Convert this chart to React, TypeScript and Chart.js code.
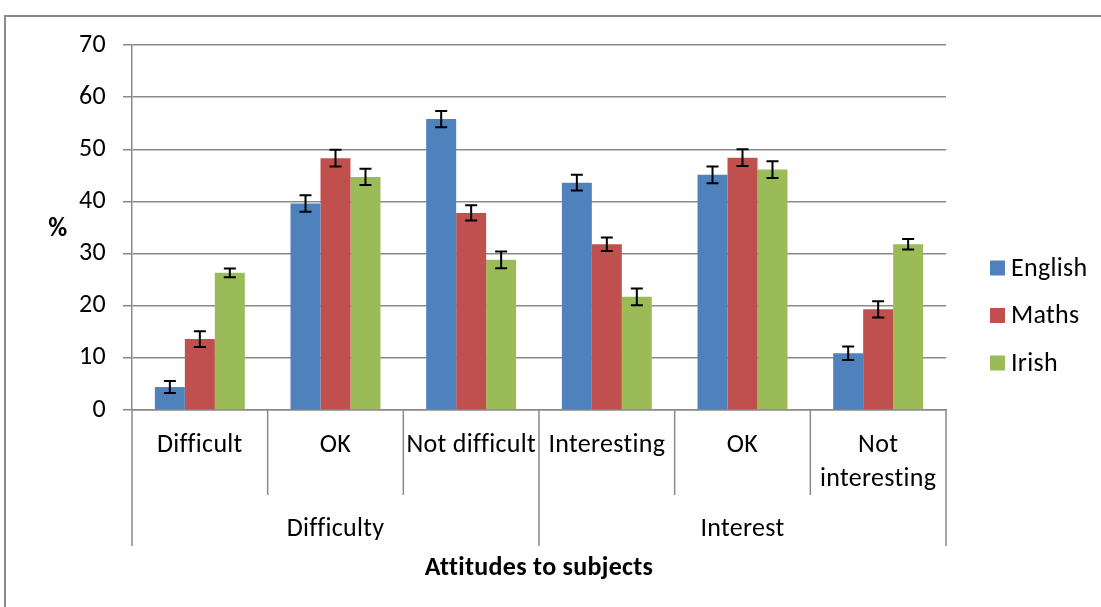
import { useEffect, useRef } from "react";
import { Chart, registerables } from "chart.js";

Chart.register(...registerables);

// ---- data ----
const categories: (string | string[])[] = [
  "Difficult",
  "OK",
  "Not difficult",
  "Interesting",
  "OK",
  ["Not", "interesting"],
];
const groups = ["Difficulty", "Interest"];
const groupSpans = [3, 3];

const seriesNames = ["English", "Maths", "Irish"];
const english = [4.4, 39.6, 55.8, 43.6, 45.1, 10.9];
const maths = [13.6, 48.3, 37.8, 31.8, 48.4, 19.3];
const irish = [26.3, 44.7, 28.8, 21.7, 46.1, 31.8];
const englishErr = [1.15, 1.6, 1.55, 1.5, 1.6, 1.3];
const mathsErr = [1.5, 1.6, 1.45, 1.3, 1.6, 1.55];
const irishErr = [0.85, 1.55, 1.6, 1.6, 1.6, 1.0];

const yTicks = [0, 10, 20, 30, 40, 50, 60, 70];
const xTitle = "Attitudes to subjects";
const yTitle = "%";

// ---- style ----
const COLORS = ["#4F81BD", "#C0504D", "#9BBB59"];
const GRID = "#8a8a8a";
const FONT = "Carlito, Lato, sans-serif";
const FS = 26;
const SPACING = "0.3px";

export default function App() {
  const ref = useRef<HTMLCanvasElement>(null);

  useEffect(() => {
    if (!ref.current) return;
    const errs = [englishErr, mathsErr, irishErr];

    const setSpacing = (chart: any) => {
      try {
        (chart.ctx as any).letterSpacing = SPACING;
      } catch (e) {
        /* ignore */
      }
    };

    const extras = {
      id: "extras",
      beforeUpdate(chart: any) {
        setSpacing(chart);
      },
      beforeLayout(chart: any) {
        setSpacing(chart);
      },
      beforeDraw(chart: any) {
        setSpacing(chart);
        const ctx = chart.ctx;
        ctx.save();
        ctx.strokeStyle = GRID;
        ctx.lineWidth = 2;
        ctx.beginPath();
        ctx.moveTo(5, chart.height + 5);
        ctx.lineTo(5, 16);
        ctx.lineTo(chart.width + 5, 16);
        ctx.stroke();
        ctx.restore();
      },
      afterDatasetsDraw(chart: any) {
        const ctx = chart.ctx;
        const y = chart.scales.y;
        ctx.save();
        ctx.strokeStyle = "#000";
        ctx.lineWidth = 2;
        chart.data.datasets.forEach((ds: any, di: number) => {
          const meta = chart.getDatasetMeta(di);
          meta.data.forEach((el: any, i: number) => {
            const v = ds.data[i];
            const e = errs[di][i];
            const top = y.getPixelForValue(v + e);
            const bot = y.getPixelForValue(v - e);
            const cx = el.x;
            ctx.beginPath();
            ctx.moveTo(cx, top);
            ctx.lineTo(cx, bot);
            ctx.moveTo(cx - 6, top);
            ctx.lineTo(cx + 6, top);
            ctx.moveTo(cx - 6, bot);
            ctx.lineTo(cx + 6, bot);
            ctx.stroke();
          });
        });
        ctx.restore();
      },
      afterDraw(chart: any) {
        const ctx = chart.ctx;
        const x = chart.scales.x;
        const ca = chart.chartArea;
        const n = categories.length;
        const w = (ca.right - ca.left) / n;
        const edge = (i: number) =>
          i < n ? x.getPixelForValue(i) - w / 2 : x.getPixelForValue(n - 1) + w / 2;

        const bounds = new Set<number>([0]);
        let acc = 0;
        groupSpans.forEach((s) => {
          acc += s;
          bounds.add(acc);
        });

        ctx.save();
        setSpacing(chart);
        ctx.strokeStyle = GRID;
        ctx.lineWidth = 1.5;
        for (let i = 0; i <= n; i++) {
          const px = edge(i);
          const len = bounds.has(i) ? 136 : 85;
          ctx.beginPath();
          ctx.moveTo(px, ca.bottom);
          ctx.lineTo(px, ca.bottom + len);
          ctx.stroke();
        }

        ctx.fillStyle = "#000";
        ctx.textAlign = "center";
        ctx.textBaseline = "middle";
        ctx.font = `${FS}px ${FONT}`;
        let start = 0;
        groups.forEach((g, gi) => {
          const end = start + groupSpans[gi];
          const cx = (edge(start) + edge(end)) / 2;
          ctx.fillText(g, cx, ca.bottom + 119);
          start = end;
        });

        ctx.font = `bold ${FS}px ${FONT}`;
        ctx.fillText(xTitle, (ca.left + ca.right) / 2, ca.bottom + 158);
        ctx.fillText(yTitle, 58, (ca.top + ca.bottom) / 2 + 2);

        // legend
        ctx.font = `${FS}px ${FONT}`;
        ctx.textAlign = "left";
        chart.data.datasets.forEach((ds: any, di: number) => {
          const cy = 268 + di * 47.5;
          ctx.fillStyle = ds.backgroundColor;
          ctx.fillRect(990, cy - 7.5, 15, 15);
          ctx.fillStyle = "#000";
          ctx.fillText(ds.label, 1011, cy + 1);
        });
        ctx.restore();
      },
    };

    const chart = new Chart(ref.current, {
      type: "bar",
      data: {
        labels: categories,
        datasets: [english, maths, irish].map((d, i) => ({
          label: seriesNames[i],
          data: d,
          backgroundColor: COLORS[i],
          borderWidth: 0,
          barPercentage: 1,
          categoryPercentage: 0.663,
        })),
      },
      options: {
        animation: false,
        responsive: true,
        maintainAspectRatio: false,
        layout: { padding: { left: 0, top: 45, right: 155, bottom: 0 } },
        plugins: {
          legend: { display: false },
          tooltip: { enabled: false },
        },
        scales: {
          x: {
            type: "category",
            offset: true,
            grid: { display: true, drawOnChartArea: false, drawTicks: false },
            border: { display: true, color: GRID, width: 1.5 },
            ticks: {
              color: "#000",
              font: { family: FONT, size: FS, lineHeight: 1.3 },
              padding: 19,
              maxRotation: 0,
              minRotation: 0,
              autoSkip: false,
            },
            afterFit(scale: any) {
              scale.height = 197;
            },
          },
          y: {
            min: yTicks[0],
            max: yTicks[yTicks.length - 1],
            afterBuildTicks(scale: any) {
              scale.ticks = yTicks.map((v) => ({ value: v }));
            },
            grid: { color: GRID, lineWidth: 1.5, drawTicks: true, tickLength: 9 },
            border: { display: true, color: GRID, width: 1.5 },
            ticks: {
              color: "#000",
              font: { family: FONT, size: FS },
              padding: 17,
            },
            afterFit(scale: any) {
              scale.width = 132;
            },
          },
        },
      },
      plugins: [extras],
    });
    return () => chart.destroy();
  }, []);

  return (
    <div style={{ position: "fixed", left: 0, top: 0, width: 1101, height: 607 }}>
      <canvas ref={ref} />
    </div>
  );
}
